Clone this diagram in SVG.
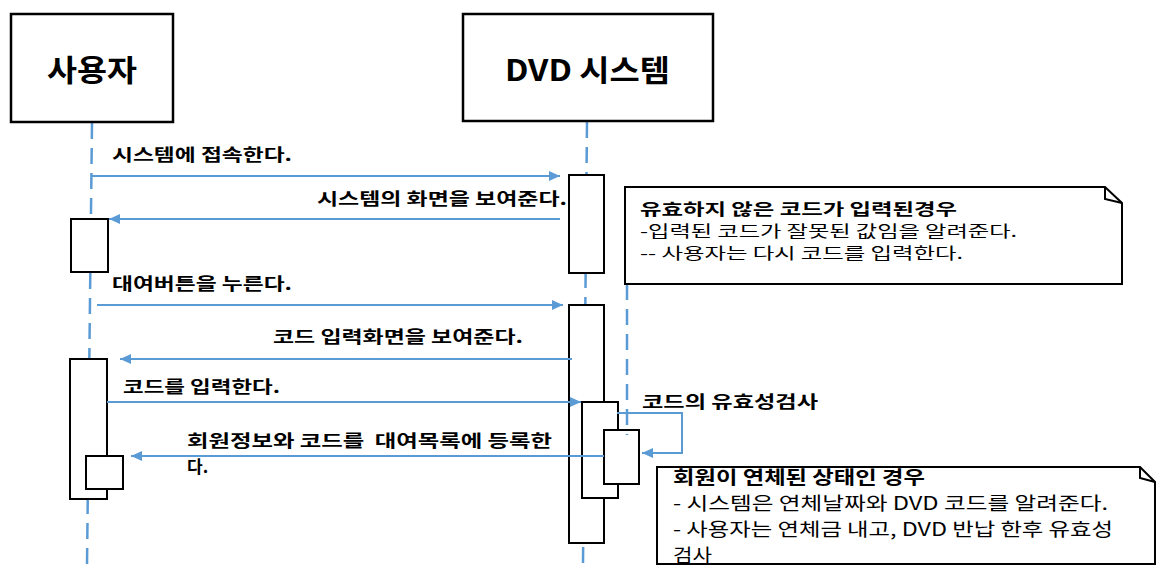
<svg xmlns="http://www.w3.org/2000/svg" width="1161" height="573" viewBox="0 0 1161 573">
<style>
.head{fill:#fff;stroke:#000;stroke-width:2.5}
.act{fill:#fff;stroke:#000;stroke-width:2}
.life{stroke:#5B9BD5;stroke-width:2.5;stroke-dasharray:16 9;fill:none}
.msg{stroke:#5B9BD5;stroke-width:2;fill:none}
.note{fill:#fff;stroke:#000;stroke-width:2}
.fold{fill:none;stroke:#000;stroke-width:2}
.t{font-family:"Noto Sans CJK KR","Noto Sans",sans-serif;fill:#000}
.title{font-size:30px;font-weight:bold}
.lbl{font-size:17px;font-weight:bold;white-space:pre}
.n1{font-size:16px}
.n2{font-size:18.5px}
.b{font-weight:bold}
</style>
<defs>
<marker id="arr" markerUnits="userSpaceOnUse" markerWidth="12" markerHeight="10" refX="11" refY="5" orient="auto">
<path d="M0,0 L11,5 L0,10 Z" fill="#5B9BD5"/>
</marker>
</defs>

<g id="lifelines">
<line class="life" x1="92" y1="123" x2="87" y2="565"/>
<line class="life" x1="587" y1="122" x2="583" y2="564"/>
</g>

<g id="user">
<rect class="head" x="11" y="14" width="162" height="108"/>
<text class="t title" x="92" y="81" text-anchor="middle" textLength="90" lengthAdjust="spacingAndGlyphs">사용자</text>
</g>
<g id="system">
<rect class="head" x="463" y="14" width="250" height="107"/>
<text class="t title" x="505" y="81" textLength="165" lengthAdjust="spacingAndGlyphs">DVD 시스템</text>
</g>

<g id="activations">
<rect class="act" x="569" y="175" width="35" height="98"/>
<rect class="act" x="71" y="219" width="37" height="53"/>
<rect class="act" x="569" y="305" width="35" height="238"/>
<rect class="act" x="70" y="359" width="37" height="140"/>
<rect class="act" x="86" y="456" width="37" height="33"/>
<rect class="act" x="582" y="402" width="36" height="96"/>
<rect class="act" x="604" y="430" width="35" height="54"/>
</g>

<g id="connectors">
<line class="msg" x1="92" y1="176" x2="560" y2="176" marker-end="url(#arr)"/>
<line class="msg" x1="560" y1="219" x2="109" y2="219" marker-end="url(#arr)"/>
<line class="msg" x1="97" y1="305" x2="563" y2="305" marker-end="url(#arr)"/>
<line class="msg" x1="572" y1="359" x2="120" y2="359" marker-end="url(#arr)"/>
<line class="msg" x1="107" y1="402" x2="581" y2="402" marker-end="url(#arr)"/>
<polyline class="msg" points="617,413 682,413 682,453 642,453" marker-end="url(#arr)"/>
<line class="msg" x1="604" y1="456" x2="131" y2="456" marker-end="url(#arr)"/>
<line class="life" x1="627" y1="284" x2="627" y2="435"/>
</g>

<g id="labels">
<text class="t lbl" x="112" y="161" textLength="180" lengthAdjust="spacingAndGlyphs">시스템에 접속한다.</text>
<text class="t lbl" x="317" y="205" textLength="250" lengthAdjust="spacingAndGlyphs">시스템의 화면을 보여준다.</text>
<text class="t lbl" x="112" y="290" textLength="180" lengthAdjust="spacingAndGlyphs">대여버튼을 누른다.</text>
<text class="t lbl" x="273" y="343" textLength="250" lengthAdjust="spacingAndGlyphs">코드 입력화면을 보여준다.</text>
<text class="t lbl" x="123" y="393" textLength="157" lengthAdjust="spacingAndGlyphs">코드를 입력한다.</text>
<text class="t lbl" x="642" y="408" textLength="176" lengthAdjust="spacingAndGlyphs">코드의 유효성검사</text>
<text class="t lbl" x="187" y="447" textLength="365" lengthAdjust="spacingAndGlyphs">회원정보와 코드를  대여목록에 등록한</text>
<text class="t lbl" x="187" y="473">다.</text>
</g>

<g id="note1">
<path class="note" d="M625,187 H1105 L1122,203 V284 H625 Z"/>
<path class="fold" d="M1105,187 V199 L1122,203"/>
<text class="t n1 b" x="640" y="215" textLength="317" lengthAdjust="spacingAndGlyphs">유효하지 않은 코드가 입력된경우</text>
<text class="t n1" x="640" y="237" textLength="377" lengthAdjust="spacingAndGlyphs">-입력된 코드가 잘못된 값임을 알려준다.</text>
<text class="t n1" x="640" y="259" textLength="323" lengthAdjust="spacingAndGlyphs">-- 사용자는 다시 코드를 입력한다.</text>
</g>

<g id="note2">
<path class="note" d="M657,467 H1140 L1155,482 V564 H657 Z"/>
<path class="fold" d="M1140,467 V478 L1155,482"/>
<text class="t n2 b" x="673" y="484" textLength="252" lengthAdjust="spacingAndGlyphs">회원이 연체된 상태인 경우</text>
<text class="t n2" x="673" y="510" textLength="435" lengthAdjust="spacingAndGlyphs">- 시스템은 연체날짜와 DVD 코드를 알려준다.</text>
<text class="t n2" x="673" y="536" textLength="440" lengthAdjust="spacingAndGlyphs">- 사용자는 연체금 내고, DVD 반납 한후 유효성</text>
<text class="t n2" x="673" y="562" textLength="39" lengthAdjust="spacingAndGlyphs">검사</text>
</g>
</svg>
